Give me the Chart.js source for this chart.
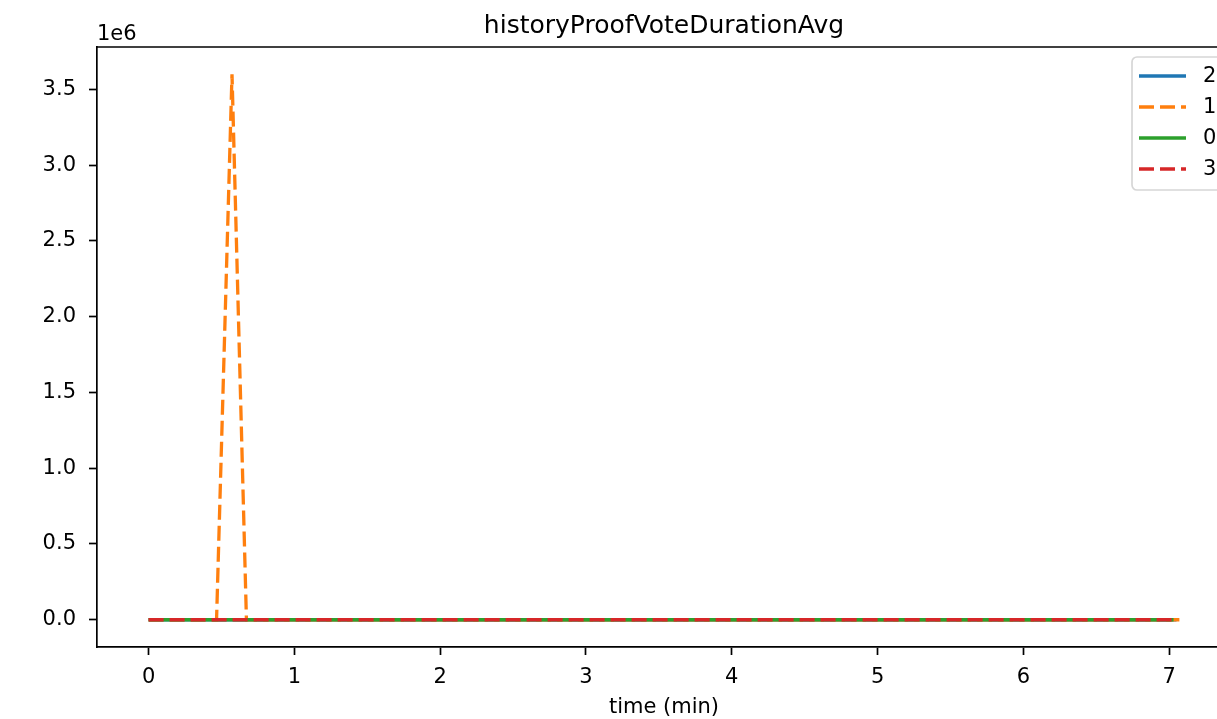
<!DOCTYPE html>
<html>
<head>
<meta charset="utf-8">
<script src="https://cdn.jsdelivr.net/npm/chart.js@4/dist/chart.umd.min.js"></script>
<style>
html,body{margin:0;padding:0;background:#fff;overflow:hidden;width:1217px;height:719px;}
canvas{display:block;}
</style>
</head>
<body>
<canvas id="c" width="1217" height="719" style="width:1217px;height:719px"></canvas>
<script>
// ---- data ----
const chartTitle = "historyProofVoteDurationAvg";
const xAxisLabel = "time (min)";
const xTicks = [0, 1, 2, 3, 4, 5, 6, 7];
const yTicks = [0, 500000, 1000000, 1500000, 2000000, 2500000, 3000000, 3500000];
const seriesNames = ["2", "1", "0", "3"];
const times2 = [0, 7.05];
const values2 = [0, 0];
const times1 = [0, 0.466, 0.572, 0.671, 7.07];
const values1 = [0, 0, 3600000, 0, 0];
const times0 = [0, 7.03];
const values0 = [0, 0];
const times3 = [0, 7.03];
const values3 = [0, 0];

const FONT = "'DejaVu Sans', sans-serif";
const colors = ["#1f77b4", "#ff7f0e", "#2ca02c", "#d62728"];
const dashes = [[], [15, 6], [], [15, 6]];

function pts(t, v) { return t.map((x, i) => ({x: x, y: v[i]})); }
const seriesData = [pts(times2, values2), pts(times1, values1), pts(times0, values0), pts(times3, values3)];

// the axes box extends past the right edge of the picture
const xMin = -0.354, xMax = 7.328;
const yMin = -180000, yMax = 3780000;
const titleCenterX = 664;

const overlay = {
  id: 'overlay',
  afterDraw(chart) {
    const ctx = chart.ctx, a = chart.chartArea;
    ctx.save();
    // frame top
    ctx.strokeStyle = '#000'; ctx.lineWidth = 1.7;
    ctx.beginPath();
    ctx.moveTo(a.left, a.top); ctx.lineTo(1217, a.top);
    ctx.stroke();
    // title
    ctx.fillStyle = '#000';
    ctx.font = "25px " + FONT;
    ctx.textAlign = 'center'; ctx.textBaseline = 'alphabetic';
    ctx.fillText(chartTitle, titleCenterX, 33);
    // x label
    ctx.font = "21px " + FONT;
    ctx.fillText(xAxisLabel, titleCenterX, 713);
    // offset text
    ctx.textAlign = 'left';
    ctx.fillText("1e6", 97, 40);
    // legend
    const lx = 1132, ly = 57, lw = 120, lh = 133;
    ctx.globalAlpha = 0.8;
    ctx.fillStyle = '#fff';
    ctx.beginPath();
    ctx.roundRect(lx, ly, lw, lh, 5);
    ctx.fill();
    ctx.globalAlpha = 1;
    ctx.strokeStyle = '#d6d6d6'; ctx.lineWidth = 1.7;
    ctx.stroke();
    const rows = [76, 107, 138, 169];
    for (let i = 0; i < seriesNames.length; i++) {
      ctx.strokeStyle = colors[i]; ctx.lineWidth = 3.3;
      ctx.setLineDash(dashes[i]);
      ctx.lineCap = 'butt';
      ctx.beginPath(); ctx.moveTo(1139, rows[i]); ctx.lineTo(1186, rows[i]); ctx.stroke();
      ctx.setLineDash([]);
      ctx.fillStyle = '#000';
      ctx.font = "21px " + FONT;
      ctx.textBaseline = 'middle';
      ctx.fillText(seriesNames[i], 1203, rows[i] + 1);
    }
    ctx.restore();
  }
};

new Chart(document.getElementById('c'), {
  type: 'line',
  data: {
    datasets: seriesNames.map((n, i) => ({
      label: n,
      data: seriesData[i],
      borderColor: colors[i],
      backgroundColor: colors[i],
      borderWidth: 3.3,
      borderDash: dashes[i],
      borderCapStyle: 'butt',
      pointRadius: 0,
      tension: 0,
      fill: false,
      order: 3 - i
    }))
  },
  options: {
    responsive: false,
    animation: false,
    events: [],
    layout: { padding: { top: 47, right: 0, left: 0, bottom: 0 } },
    plugins: { legend: { display: false }, title: { display: false }, tooltip: { enabled: false } },
    scales: {
      x: {
        type: 'linear', min: xMin, max: xMax,
        afterFit: s => { s.height = 72; },
        afterBuildTicks: s => { s.ticks = xTicks.map(v => ({value: v})); },
        grid: { drawOnChartArea: false, drawTicks: true, tickLength: 8, tickWidth: 1.7, tickColor: '#000' },
        border: { display: true, color: '#000', width: 1.7 },
        ticks: { color: '#000', font: { family: FONT, size: 21 }, padding: 10, maxRotation: 0, autoSkip: false, callback: v => String(v) }
      },
      y: {
        type: 'linear', min: yMin, max: yMax,
        afterFit: s => { s.width = 97; },
        afterBuildTicks: s => { s.ticks = yTicks.map(v => ({value: v})); },
        grid: { drawOnChartArea: false, drawTicks: true, tickLength: 8, tickWidth: 1.7, tickColor: '#000' },
        border: { display: true, color: '#000', width: 1.7 },
        ticks: { color: '#000', font: { family: FONT, size: 21 }, padding: 13, autoSkip: false, callback: v => (v / 1e6).toFixed(1) }
      }
    }
  },
  plugins: [overlay]
});
</script>
</body>
</html>
